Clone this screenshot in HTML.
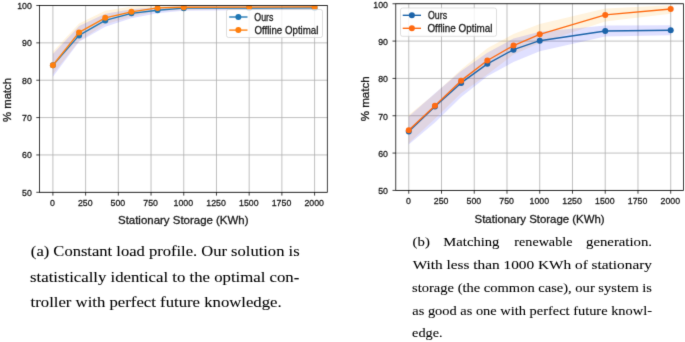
<!DOCTYPE html>
<html><head><meta charset="utf-8"><style>
html,body{margin:0;padding:0;background:#fff;width:685px;height:342px;overflow:hidden}
svg{display:block}
.tk{font-family:"Liberation Sans",sans-serif;font-size:9.95px;fill:#1a1a1a;stroke:#1a1a1a;stroke-width:0.3px}
.al{font-family:"Liberation Sans",sans-serif;font-size:10.8px;fill:#1a1a1a;stroke:#1a1a1a;stroke-width:0.3px}
.lg{font-family:"Liberation Sans",sans-serif;font-size:10.2px;fill:#1a1a1a;stroke:#1a1a1a;stroke-width:0.28px}
.cl{font-family:"Liberation Serif",serif;font-size:14.4px;fill:#000;stroke:#000;stroke-width:0.08px}
.cr{font-family:"Liberation Serif",serif;font-size:13.3px;fill:#000;stroke:#000;stroke-width:0.08px}
.yl{font-family:"Liberation Sans",sans-serif;font-size:11.4px;fill:#1a1a1a;stroke:#1a1a1a;stroke-width:0.3px}
</style></head><body>
<svg width="685" height="342" viewBox="0 0 685 342">
<defs><filter id="bl" x="0" y="0" width="685" height="342" filterUnits="userSpaceOnUse" color-interpolation-filters="sRGB"><feConvolveMatrix order="3" kernelMatrix="0.0100 0.0800 0.0100 0.0800 0.6400 0.0800 0.0100 0.0800 0.0100" edgeMode="duplicate" preserveAlpha="true"/></filter></defs><g filter="url(#bl)"><rect width="685" height="342" fill="#fff"/>
<clipPath id="cL"><rect x="39.6" y="5.5" width="287.7" height="186.8"/></clipPath>
<path d="M52.9 5.5V192.3M85.61 5.5V192.3M118.32 5.5V192.3M151.04 5.5V192.3M183.75 5.5V192.3M216.46 5.5V192.3M249.17 5.5V192.3M281.89 5.5V192.3M314.6 5.5V192.3M39.6 192.3H327.3M39.6 154.94H327.3M39.6 117.58H327.3M39.6 80.22H327.3M39.6 42.86H327.3M39.6 5.5H327.3" stroke="#b0b0b0" stroke-width="0.8" fill="none"/>
<g clip-path="url(#cL)">
<path d="M52.9 51.83L79.07 23.43L105.24 10.73L131.41 6.62L157.58 4.75L183.75 4.75L249.17 4.75L314.6 4.75L314.6 9.24L249.17 9.24L183.75 9.98L157.58 11.1L131.41 16.71L105.24 24.18L79.07 40.99L52.9 74.24Z" fill="#ffa500" fill-opacity="0.13"/>
<path d="M52.9 54.07L79.07 26.05L105.24 13.72L131.41 9.24L157.58 6.99L183.75 6.25L249.17 6.25L314.6 6.25L314.6 9.98L249.17 10.36L183.75 10.73L157.58 13.35L131.41 18.2L105.24 26.8L79.07 41.74L52.9 76.86Z" fill="#0000ff" fill-opacity="0.12"/>
<path d="M52.9 65.28L79.07 35.39L105.24 20.44L131.41 13.35L157.58 10.21L183.75 8.19L249.17 8.12L314.6 7.93" stroke="#1f77b4" stroke-width="1.35" fill="none" stroke-linejoin="round" stroke-linecap="round"/>
<circle cx="52.9" cy="65.28" r="3.0" fill="#1f77b4"/>
<circle cx="79.07" cy="35.39" r="3.0" fill="#1f77b4"/>
<circle cx="105.24" cy="20.44" r="3.0" fill="#1f77b4"/>
<circle cx="131.41" cy="13.35" r="3.0" fill="#1f77b4"/>
<circle cx="157.58" cy="10.21" r="3.0" fill="#1f77b4"/>
<circle cx="183.75" cy="8.19" r="3.0" fill="#1f77b4"/>
<circle cx="249.17" cy="8.12" r="3.0" fill="#1f77b4"/>
<circle cx="314.6" cy="7.93" r="3.0" fill="#1f77b4"/>
<path d="M52.9 65.28L79.07 32.4L105.24 17.83L131.41 11.85L157.58 7.89L183.75 7.29L249.17 7.07L314.6 6.92" stroke="#ff7f0e" stroke-width="1.35" fill="none" stroke-linejoin="round" stroke-linecap="round"/>
<circle cx="52.9" cy="65.28" r="3.0" fill="#ff7f0e"/>
<circle cx="79.07" cy="32.4" r="3.0" fill="#ff7f0e"/>
<circle cx="105.24" cy="17.83" r="3.0" fill="#ff7f0e"/>
<circle cx="131.41" cy="11.85" r="3.0" fill="#ff7f0e"/>
<circle cx="157.58" cy="7.89" r="3.0" fill="#ff7f0e"/>
<circle cx="183.75" cy="7.29" r="3.0" fill="#ff7f0e"/>
<circle cx="249.17" cy="7.07" r="3.0" fill="#ff7f0e"/>
<circle cx="314.6" cy="6.92" r="3.0" fill="#ff7f0e"/>
</g>
<rect x="39.6" y="5.5" width="287.7" height="186.8" fill="none" stroke="#000000" stroke-width="0.75"/>
<path d="M52.9 192.3v3.3M85.61 192.3v3.3M118.32 192.3v3.3M151.04 192.3v3.3M183.75 192.3v3.3M216.46 192.3v3.3M249.17 192.3v3.3M281.89 192.3v3.3M314.6 192.3v3.3M39.6 192.3h-3.3M39.6 154.94h-3.3M39.6 117.58h-3.3M39.6 80.22h-3.3M39.6 42.86h-3.3M39.6 5.5h-3.3" stroke="#000000" stroke-width="0.75" fill="none"/>
<text transform="translate(52.5 205.8) scale(0.883 1)" text-anchor="middle" class="tk">0</text>
<text transform="translate(85.21 205.8) scale(0.883 1)" text-anchor="middle" class="tk">250</text>
<text transform="translate(117.92 205.8) scale(0.883 1)" text-anchor="middle" class="tk">500</text>
<text transform="translate(150.64 205.8) scale(0.883 1)" text-anchor="middle" class="tk">750</text>
<text transform="translate(183.35 205.8) scale(0.883 1)" text-anchor="middle" class="tk">1000</text>
<text transform="translate(216.06 205.8) scale(0.883 1)" text-anchor="middle" class="tk">1250</text>
<text transform="translate(248.77 205.8) scale(0.883 1)" text-anchor="middle" class="tk">1500</text>
<text transform="translate(281.49 205.8) scale(0.883 1)" text-anchor="middle" class="tk">1750</text>
<text transform="translate(314.2 205.8) scale(0.883 1)" text-anchor="middle" class="tk">2000</text>
<text transform="translate(31.8 195.8) scale(0.883 1)" text-anchor="end" class="tk">50</text>
<text transform="translate(31.8 158.44) scale(0.883 1)" text-anchor="end" class="tk">60</text>
<text transform="translate(31.8 121.08) scale(0.883 1)" text-anchor="end" class="tk">70</text>
<text transform="translate(31.8 83.72) scale(0.883 1)" text-anchor="end" class="tk">80</text>
<text transform="translate(31.8 46.36) scale(0.883 1)" text-anchor="end" class="tk">90</text>
<text transform="translate(31.8 9) scale(0.883 1)" text-anchor="end" class="tk">100</text>
<rect x="226.5" y="9.5" width="96" height="28" rx="2" ry="2" fill="#ffffff" fill-opacity="0.8" stroke="#d0d0d0" stroke-width="0.7"/>
<path d="M229.2 17H247.5" stroke="#1f77b4" stroke-width="1.35"/>
<circle cx="238.35" cy="17" r="3.0" fill="#1f77b4"/>
<path d="M229.2 30.1H247.5" stroke="#ff7f0e" stroke-width="1.35"/>
<circle cx="238.35" cy="30.1" r="3.0" fill="#ff7f0e"/>
<clipPath id="cR"><rect x="395.8" y="3.75" width="287.6" height="186.65"/></clipPath>
<path d="M408.75 3.75V190.4M441.5 3.75V190.4M474.24 3.75V190.4M506.99 3.75V190.4M539.73 3.75V190.4M572.48 3.75V190.4M605.22 3.75V190.4M637.97 3.75V190.4M670.71 3.75V190.4M395.8 190.4H683.4M395.8 153.07H683.4M395.8 115.74H683.4M395.8 78.41H683.4M395.8 41.08H683.4M395.8 3.75H683.4" stroke="#b0b0b0" stroke-width="0.8" fill="none"/>
<g clip-path="url(#cR)">
<path d="M408.75 114.99L434.95 93.72L461.14 69.45L487.34 48.17L513.53 33.99L539.73 23.91L605.22 8.42L670.71 5.24L670.71 13.83L605.22 21.48L539.73 42.95L513.53 54.52L487.34 74.49L461.14 93.34L434.95 118.73L408.75 143.36Z" fill="#ffa500" fill-opacity="0.13"/>
<path d="M408.75 116.49L434.95 93.34L461.14 70.94L487.34 52.65L513.53 38.47L539.73 31.75L605.22 25.59L670.71 25.21L670.71 35.29L605.22 36.41L539.73 51.16L513.53 61.98L487.34 76.17L461.14 97.08L434.95 122.46L408.75 144.48Z" fill="#0000ff" fill-opacity="0.12"/>
<path d="M408.75 131.42L434.95 106.41L461.14 82.89L487.34 63.85L513.53 49.67L539.73 40.71L605.22 31L670.71 30.25" stroke="#1c64a9" stroke-width="1.35" fill="none" stroke-linejoin="round" stroke-linecap="round"/>
<circle cx="408.75" cy="131.42" r="3.0" fill="#1c64a9"/>
<circle cx="434.95" cy="106.41" r="3.0" fill="#1c64a9"/>
<circle cx="461.14" cy="82.89" r="3.0" fill="#1c64a9"/>
<circle cx="487.34" cy="63.85" r="3.0" fill="#1c64a9"/>
<circle cx="513.53" cy="49.67" r="3.0" fill="#1c64a9"/>
<circle cx="539.73" cy="40.71" r="3.0" fill="#1c64a9"/>
<circle cx="605.22" cy="31" r="3.0" fill="#1c64a9"/>
<circle cx="670.71" cy="30.25" r="3.0" fill="#1c64a9"/>
<path d="M408.75 130.3L434.95 105.66L461.14 80.65L487.34 60.49L513.53 45.56L539.73 34.36L605.22 14.95L670.71 8.98" stroke="#ff6a12" stroke-width="1.35" fill="none" stroke-linejoin="round" stroke-linecap="round"/>
<circle cx="408.75" cy="130.3" r="3.0" fill="#ff6a12"/>
<circle cx="434.95" cy="105.66" r="3.0" fill="#ff6a12"/>
<circle cx="461.14" cy="80.65" r="3.0" fill="#ff6a12"/>
<circle cx="487.34" cy="60.49" r="3.0" fill="#ff6a12"/>
<circle cx="513.53" cy="45.56" r="3.0" fill="#ff6a12"/>
<circle cx="539.73" cy="34.36" r="3.0" fill="#ff6a12"/>
<circle cx="605.22" cy="14.95" r="3.0" fill="#ff6a12"/>
<circle cx="670.71" cy="8.98" r="3.0" fill="#ff6a12"/>
</g>
<rect x="395.8" y="3.75" width="287.6" height="186.65" fill="none" stroke="#000000" stroke-width="0.75"/>
<path d="M408.75 190.4v3.3M441.5 190.4v3.3M474.24 190.4v3.3M506.99 190.4v3.3M539.73 190.4v3.3M572.48 190.4v3.3M605.22 190.4v3.3M637.97 190.4v3.3M670.71 190.4v3.3M395.8 190.4h-3.3M395.8 153.07h-3.3M395.8 115.74h-3.3M395.8 78.41h-3.3M395.8 41.08h-3.3M395.8 3.75h-3.3" stroke="#000000" stroke-width="0.75" fill="none"/>
<text transform="translate(408.35 203.9) scale(0.883 1)" text-anchor="middle" class="tk">0</text>
<text transform="translate(441.1 203.9) scale(0.883 1)" text-anchor="middle" class="tk">250</text>
<text transform="translate(473.84 203.9) scale(0.883 1)" text-anchor="middle" class="tk">500</text>
<text transform="translate(506.59 203.9) scale(0.883 1)" text-anchor="middle" class="tk">750</text>
<text transform="translate(539.33 203.9) scale(0.883 1)" text-anchor="middle" class="tk">1000</text>
<text transform="translate(572.08 203.9) scale(0.883 1)" text-anchor="middle" class="tk">1250</text>
<text transform="translate(604.82 203.9) scale(0.883 1)" text-anchor="middle" class="tk">1500</text>
<text transform="translate(637.57 203.9) scale(0.883 1)" text-anchor="middle" class="tk">1750</text>
<text transform="translate(670.31 203.9) scale(0.883 1)" text-anchor="middle" class="tk">2000</text>
<text transform="translate(387.9 194.2) scale(0.883 1)" text-anchor="end" class="tk">50</text>
<text transform="translate(387.9 156.87) scale(0.883 1)" text-anchor="end" class="tk">60</text>
<text transform="translate(387.9 119.54) scale(0.883 1)" text-anchor="end" class="tk">70</text>
<text transform="translate(387.9 82.21) scale(0.883 1)" text-anchor="end" class="tk">80</text>
<text transform="translate(387.9 44.88) scale(0.883 1)" text-anchor="end" class="tk">90</text>
<text transform="translate(387.9 7.55) scale(0.883 1)" text-anchor="end" class="tk">100</text>
<rect x="400.5" y="8" width="96" height="28.3" rx="2" ry="2" fill="#ffffff" fill-opacity="0.8" stroke="#d0d0d0" stroke-width="0.7"/>
<path d="M402.7 15.3H421" stroke="#1c64a9" stroke-width="1.35"/>
<circle cx="411.85" cy="15.3" r="3.0" fill="#1c64a9"/>
<path d="M402.7 28.3H421" stroke="#ff6a12" stroke-width="1.35"/>
<circle cx="411.85" cy="28.3" r="3.0" fill="#ff6a12"/>
<text x="117.99" y="224.1" class="al" textLength="130.53" lengthAdjust="spacingAndGlyphs">Stationary Storage (KWh)</text>
<text transform="translate(11.4 122) rotate(-90)" class="yl" textLength="44.04" lengthAdjust="spacingAndGlyphs">% match</text>
<text x="254.25" y="20.6" class="lg" textLength="19.22" lengthAdjust="spacingAndGlyphs">Ours</text>
<text x="254.38" y="33.6" class="lg" textLength="64.05" lengthAdjust="spacingAndGlyphs">Offline Optimal</text>
<text x="474.58" y="222.8" class="al" textLength="130.04" lengthAdjust="spacingAndGlyphs">Stationary Storage (KWh)</text>
<text transform="translate(369.1 121.36) rotate(-90)" class="yl" textLength="45.16" lengthAdjust="spacingAndGlyphs">% match</text>
<text x="428" y="18.8" class="lg" textLength="19.08" lengthAdjust="spacingAndGlyphs">Ours</text>
<text x="427.45" y="31.6" class="lg" textLength="65.05" lengthAdjust="spacingAndGlyphs">Offline Optimal</text>
<text x="30.89" y="256" class="cl" textLength="268.72" lengthAdjust="spacingAndGlyphs">(a) Constant load profile. Our solution is</text>
<text x="30.1" y="281.7" class="cl" textLength="269.11" lengthAdjust="spacingAndGlyphs">statistically identical to the optimal con-</text>
<text x="30.59" y="307.3" class="cl" textLength="251.12" lengthAdjust="spacingAndGlyphs">troller with perfect future knowledge.</text>
<text x="412.58" y="246.1" class="cr" textLength="17.29" lengthAdjust="spacingAndGlyphs">(b)</text>
<text x="443.34" y="246.1" class="cr" textLength="56.09" lengthAdjust="spacingAndGlyphs">Matching</text>
<text x="514.36" y="246.1" class="cr" textLength="58.05" lengthAdjust="spacingAndGlyphs">renewable</text>
<text x="586" y="246.1" class="cr" textLength="66.05" lengthAdjust="spacingAndGlyphs">generation.</text>
<text x="412.69" y="268.75" class="cr" textLength="239.31" lengthAdjust="spacingAndGlyphs">With less than 1000 KWh of stationary</text>
<text x="412.1" y="291.6" class="cr" textLength="239.9" lengthAdjust="spacingAndGlyphs">storage (the common case), our system is</text>
<text x="412.29" y="314.5" class="cr" textLength="239.71" lengthAdjust="spacingAndGlyphs">as good as one with perfect future knowl-</text>
<text x="412.06" y="336.9" class="cr" textLength="30.64" lengthAdjust="spacingAndGlyphs">edge.</text>
</g></svg>
</body></html>
